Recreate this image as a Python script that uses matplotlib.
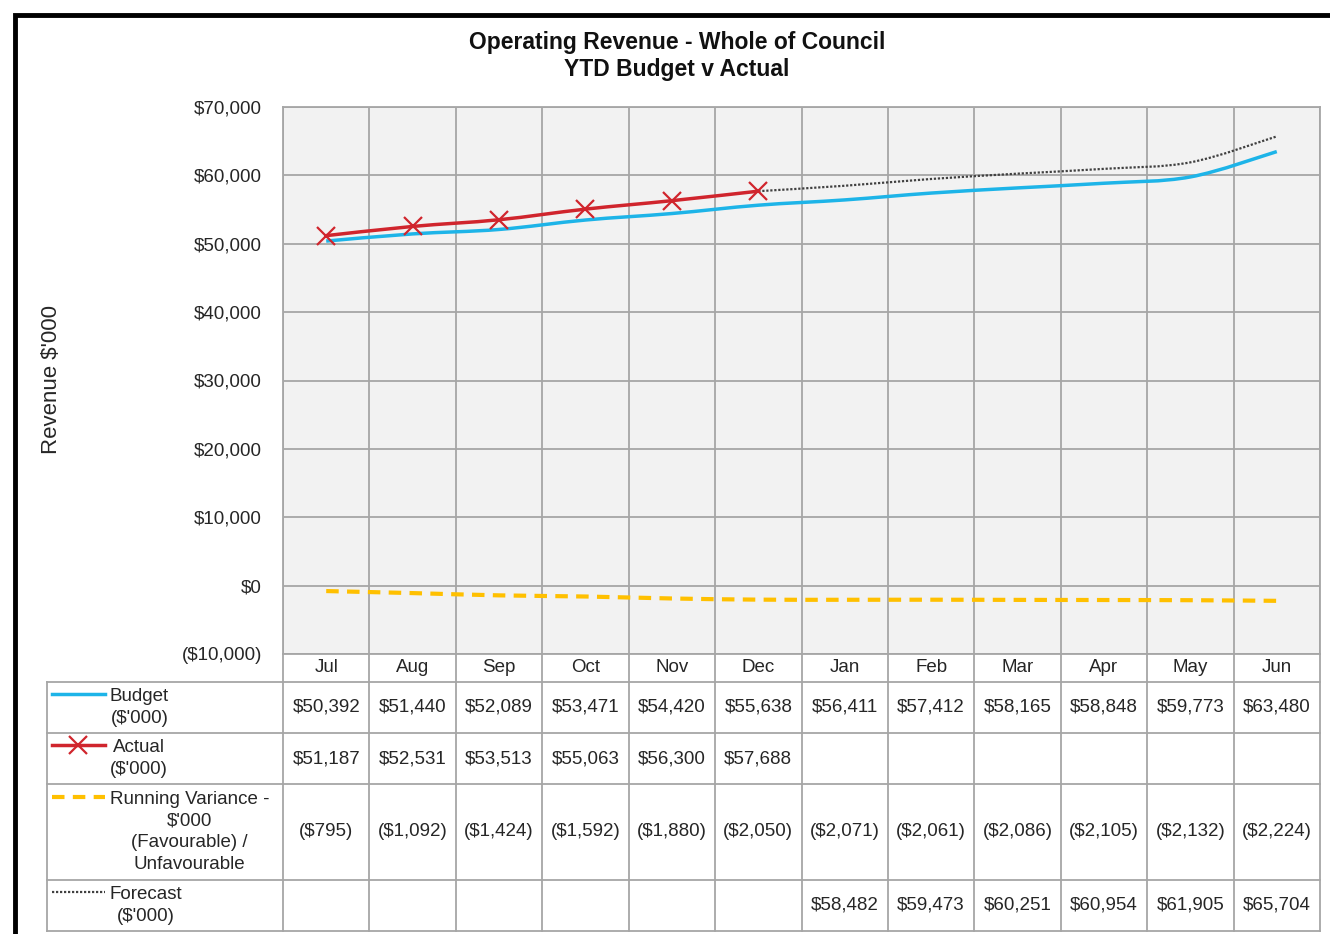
import matplotlib
matplotlib.use("Agg")
import matplotlib.pyplot as plt
from matplotlib.path import Path
from matplotlib.patches import PathPatch, Rectangle

# Chart data (values in $'000)
months = ["Jul", "Aug", "Sep", "Oct", "Nov", "Dec",
          "Jan", "Feb", "Mar", "Apr", "May", "Jun"]
budget = [50392, 51440, 52089, 53471, 54420, 55638,
          56411, 57412, 58165, 58848, 59773, 63480]
actual = [51187, 52531, 53513, 55063, 56300, 57688]
variance = [-795, -1092, -1424, -1592, -1880, -2050,
            -2071, -2061, -2086, -2105, -2132, -2224]
forecast = [None, None, None, None, None, None,
            58482, 59473, 60251, 60954, 61905, 65704]
y_ticks = [-10000, 0, 10000, 20000, 30000, 40000, 50000, 60000, 70000]

W, H = 1330, 934
FONT = "Liberation Sans"
GRID = "#a6a6a6"
TXT = "#262626"
FS = 13.5
C_BUDGET = "#1db4e8"
C_ACTUAL = "#d0252d"
C_VAR = "#ffc000"
C_FC = "#404040"


def fx(px):
    return px / W


def fy(py):
    return 1 - py / H


def money(v):
    if v is None:
        return ""
    if v < 0:
        return "(${:,})".format(-v)
    return "${:,}".format(v)


def smooth_path(xs, ys):
    """Excel-style smoothed line as a cubic bezier path."""
    pts = list(zip(xs, ys))
    verts = [pts[0]]
    codes = [Path.MOVETO]
    n = len(pts)
    for i in range(n - 1):
        p0 = pts[i - 1] if i > 0 else pts[i]
        p1 = pts[i]
        p2 = pts[i + 1]
        p3 = pts[i + 2] if i + 2 < n else pts[i + 1]
        c1 = (p1[0] + (p2[0] - p0[0]) / 6, p1[1] + (p2[1] - p0[1]) / 6)
        c2 = (p2[0] - (p3[0] - p1[0]) / 6, p2[1] - (p3[1] - p1[1]) / 6)
        verts += [c1, c2, p2]
        codes += [Path.CURVE4] * 3
    return Path(verts, codes)


def add_smooth(ax, xs, ys, **kw):
    patch = PathPatch(smooth_path(xs, ys), fill=False, **kw)
    ax.add_patch(patch)


fig = plt.figure(figsize=(W / 100, H / 100), dpi=100)
plt.rcParams["font.family"] = [FONT, "DejaVu Sans"]

# outer frame
fig.patches.append(Rectangle((fx(15), fy(1000)), 2, fy(15) - fy(1000),
                             transform=fig.transFigure, fill=False,
                             edgecolor="black", linewidth=3.5))

# main plot area
ax = fig.add_axes([fx(283), fy(654), fx(1320) - fx(283), fy(107) - fy(654)])
ax.set_facecolor("#f2f2f2")
ax.set_xlim(-0.5, 11.5)
ax.set_ylim(-10000, 70000)
ax.set_yticks(y_ticks)
ax.set_yticklabels([money(v) for v in y_ticks], fontsize=FS, color=TXT)
ax.set_xticks([i - 0.5 for i in range(13)])
ax.set_xticklabels([])
ax.tick_params(length=0, pad=15)
ax.grid(True, color=GRID, linewidth=1.3)
for s in ax.spines.values():
    s.set_color(GRID)
    s.set_linewidth(1.3)

x = list(range(len(months)))
add_smooth(ax, x, budget, edgecolor=C_BUDGET, linewidth=2.5, zorder=3)
add_smooth(ax, x[:len(actual)], actual, edgecolor=C_ACTUAL, linewidth=2.5, zorder=4)
ax.plot(x[:len(actual)], actual, linestyle="none", marker="x", markersize=13,
        markeredgewidth=1.6, color=C_ACTUAL, zorder=5)
fc_x = [len(actual) - 1] + [i for i, v in enumerate(forecast) if v is not None]
fc_y = [actual[-1]] + [v for v in forecast if v is not None]
add_smooth(ax, fc_x, fc_y, edgecolor=C_FC, linewidth=1.6,
           linestyle=(0, (1, 0.8)), zorder=3)
add_smooth(ax, x, variance, edgecolor=C_VAR, linewidth=3,
           linestyle=(0, (3, 2)), zorder=3)

fig.text(fx(52), fy(380), "Revenue $'000", rotation=90, ha="center",
         va="center", fontsize=16, color=TXT)
fig.text(fx(677), fy(56), "Operating Revenue - Whole of Council\nYTD Budget v Actual",
         ha="center", va="center", fontsize=16.5, fontweight="bold",
         linespacing=1.2, color="#111111")

# data table below the plot
col_w = (1320 - 283) / 12
x0 = -0.5 - (283 - 47) / col_w
tax = fig.add_axes([fx(47), fy(931), fx(1320) - fx(47), fy(654) - fy(931)])
tax.set_xlim(x0, 11.5)
tax.set_ylim(277, 0)
tax.axis("off")


def hx(px):
    return x0 + (px - 47) / col_w


rows = [28, 79, 130, 226, 277]
for k in range(13):
    tax.plot([k - 0.5, k - 0.5], [0, 277], color=GRID, lw=1.3, clip_on=False)
tax.plot([x0, x0], [28, 277], color=GRID, lw=1.3, clip_on=False)
for r in rows:
    tax.plot([x0, 11.5], [r, r], color=GRID, lw=1.3, clip_on=False)

for i, m in enumerate(months):
    tax.text(i, 14, m, ha="center", va="center", fontsize=FS, color=TXT)

table_rows = [budget, actual + [None] * 6, variance, forecast]
for j, series in enumerate(table_rows):
    yc = (rows[j] + rows[j + 1]) / 2
    for i, v in enumerate(series):
        tax.text(i, yc, money(v), ha="center", va="center", fontsize=FS,
                 color=TXT)

headers = ["Budget\n($'000)", "Actual\n($'000)",
           "Running Variance -\n$'000\n(Favourable) /\nUnfavourable",
           "Forecast\n($'000)"]
first_line = [40, 91, 143, 238]
for j, h in enumerate(headers):
    yc = (rows[j] + rows[j + 1]) / 2
    tax.text(hx(110), yc, h, ha="left", va="center", multialignment="center",
             fontsize=FS, linespacing=1.35, color=TXT)

kx = [hx(52), hx(105)]
tax.plot(kx, [first_line[0]] * 2, color=C_BUDGET, lw=2.5, clip_on=False)
tax.plot(kx, [first_line[1]] * 2, color=C_ACTUAL, lw=2.5, clip_on=False)
tax.plot([hx(78)], [first_line[1]], marker="x", markersize=13,
         markeredgewidth=1.6, color=C_ACTUAL, clip_on=False)
tax.plot(kx, [first_line[2]] * 2, color=C_VAR, lw=3,
         linestyle=(0, (3, 2)), clip_on=False)
tax.plot(kx, [first_line[3]] * 2, color=C_FC, lw=1.6,
         linestyle=(0, (1, 0.8)), clip_on=False)

fig.savefig("out.png", dpi=100, facecolor="white")
